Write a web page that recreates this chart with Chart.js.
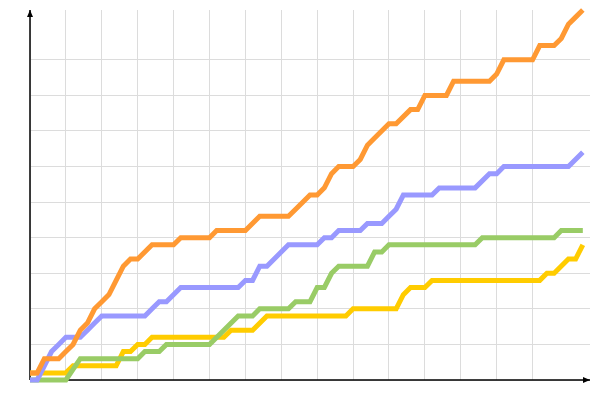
<!doctype html>
<html lang="en">
<head>
    <meta charset="utf-8">
    <title>Cumulative lines</title>
    <style>
        * {
            margin: 0;
            padding: 0;
        }
        body {
            background: #fff;
        }
        .chartBox {
            width: 600px;
            height: 400px;
        }
    </style>
</head>
<body>
    <div class="chartBox">
        <canvas id="myChart" width="600" height="400"></canvas>
    </div>

    <script src="https://cdn.jsdelivr.net/npm/chart.js"></script>

    <script>
        // values: x in steps, y in counts (5 per grid cell)
        const orangeX = [0, 1, 2, 4, 5, 6, 7, 8, 9, 10, 11, 12, 13, 14, 15, 17, 20, 21, 25, 26, 30, 32, 36, 37, 39, 40, 41, 42, 43, 45, 46, 47, 48, 50, 51, 53, 54, 55, 58, 59, 64, 65, 66, 70, 71, 73, 74, 75, 76, 77]
        const orangeY = [1, 1, 3, 3, 4, 5, 7, 8, 10, 11, 12, 14, 16, 17, 17, 19, 19, 20, 20, 21, 21, 23, 23, 24, 26, 26, 27, 29, 30, 30, 31, 33, 34, 36, 36, 38, 38, 40, 40, 42, 42, 43, 45, 45, 47, 47, 48, 50, 51, 52]

        const blueX = [0, 1, 2, 3, 4, 5, 7, 8, 9, 10, 16, 17, 18, 19, 21, 29, 30, 31, 32, 33, 36, 40, 41, 42, 43, 46, 47, 49, 50, 51, 52, 56, 57, 62, 64, 65, 66, 75, 77]
        const blueY = [0, 0, 2, 4, 5, 6, 6, 7, 8, 9, 9, 10, 11, 11, 13, 13, 14, 14, 16, 16, 19, 19, 20, 20, 21, 21, 22, 22, 23, 24, 26, 26, 27, 27, 29, 29, 30, 30, 32]

        const greenX = [0, 5, 7, 15, 16, 18, 19, 25, 29, 31, 32, 36, 37, 39, 40, 41, 42, 43, 47, 48, 49, 50, 62, 63, 73, 74, 77]
        const greenY = [0, 0, 3, 3, 4, 4, 5, 5, 9, 9, 10, 10, 11, 11, 13, 13, 15, 16, 16, 18, 18, 19, 19, 20, 20, 21, 21]

        const yellowX = [0, 5, 6, 12, 13, 14, 15, 16, 17, 27, 28, 31, 33, 44, 45, 51, 52, 53, 55, 56, 71, 72, 73, 75, 76, 77]
        const yellowY = [1, 1, 2, 2, 4, 4, 5, 5, 6, 6, 7, 7, 9, 9, 10, 10, 12, 13, 13, 14, 14, 15, 15, 17, 17, 19]

        // grid ticks
        const xTicks = [0, 5, 10, 15, 20, 25, 30, 35, 40, 45, 50, 55, 60, 65, 70]
        const yTicks = [0, 5, 10, 15, 20, 25, 30, 35, 40, 45]

        const toPoints = (xs, ys) => xs.map((x, i) => ({ x: x, y: ys[i] }))

        const lineStyle = {
            borderWidth: 5,
            pointRadius: 0,
            tension: 0,
            fill: false,
            clip: false
        }

        const data = {
            datasets: [
                { label: 'Orange', data: toPoints(orangeX, orangeY), borderColor: '#ff9933', ...lineStyle },
                { label: 'Blue', data: toPoints(blueX, blueY), borderColor: '#9999ff', ...lineStyle },
                { label: 'Green', data: toPoints(greenX, greenY), borderColor: '#99cc66', ...lineStyle },
                { label: 'Yellow', data: toPoints(yellowX, yellowY), borderColor: '#ffcc00', ...lineStyle }
            ]
        };

        // axes with arrow heads, drawn under the lines
        const arrowAxes = {
            id: 'arrowAxes',
            beforeDatasetsDraw(chart) {
                const { ctx, chartArea: { left, right, top, bottom } } = chart
                ctx.save()
                ctx.strokeStyle = '#000'
                ctx.fillStyle = '#000'
                ctx.lineWidth = 1.5
                ctx.beginPath()
                ctx.moveTo(left, bottom)
                ctx.lineTo(right, bottom)
                ctx.moveTo(left, bottom)
                ctx.lineTo(left, top)
                ctx.stroke()

                ctx.beginPath()
                ctx.moveTo(left, top)
                ctx.lineTo(left - 3, top + 7)
                ctx.lineTo(left + 3, top + 7)
                ctx.closePath()
                ctx.fill()

                ctx.beginPath()
                ctx.moveTo(right, bottom)
                ctx.lineTo(right - 7, bottom - 3)
                ctx.lineTo(right - 7, bottom + 3)
                ctx.closePath()
                ctx.fill()
                ctx.restore()
            }
        }

        const config = {
            type: 'line',
            data: data,
            options: {
                responsive: false,
                animation: false,
                devicePixelRatio: 1,
                layout: {
                    padding: { left: 30, right: 10, top: 10, bottom: 20 }
                },
                plugins: {
                    legend: { display: false },
                    tooltip: { enabled: false }
                },
                scales: {
                    x: {
                        type: 'linear',
                        min: 0,
                        max: 78,
                        afterBuildTicks: scale => { scale.ticks = xTicks.map(v => ({ value: v })) },
                        ticks: { display: false },
                        border: { display: false },
                        grid: { color: '#dcdcdc', lineWidth: 1, drawTicks: false }
                    },
                    y: {
                        type: 'linear',
                        min: 0,
                        max: 52,
                        afterBuildTicks: scale => { scale.ticks = yTicks.map(v => ({ value: v })) },
                        ticks: { display: false },
                        border: { display: false },
                        grid: { color: '#dcdcdc', lineWidth: 1, drawTicks: false }
                    }
                }
            },
            plugins: [arrowAxes]
        };

        const myChart = new Chart(
            document.getElementById('myChart'),
            config
        );
    </script>
</body>
</html>
